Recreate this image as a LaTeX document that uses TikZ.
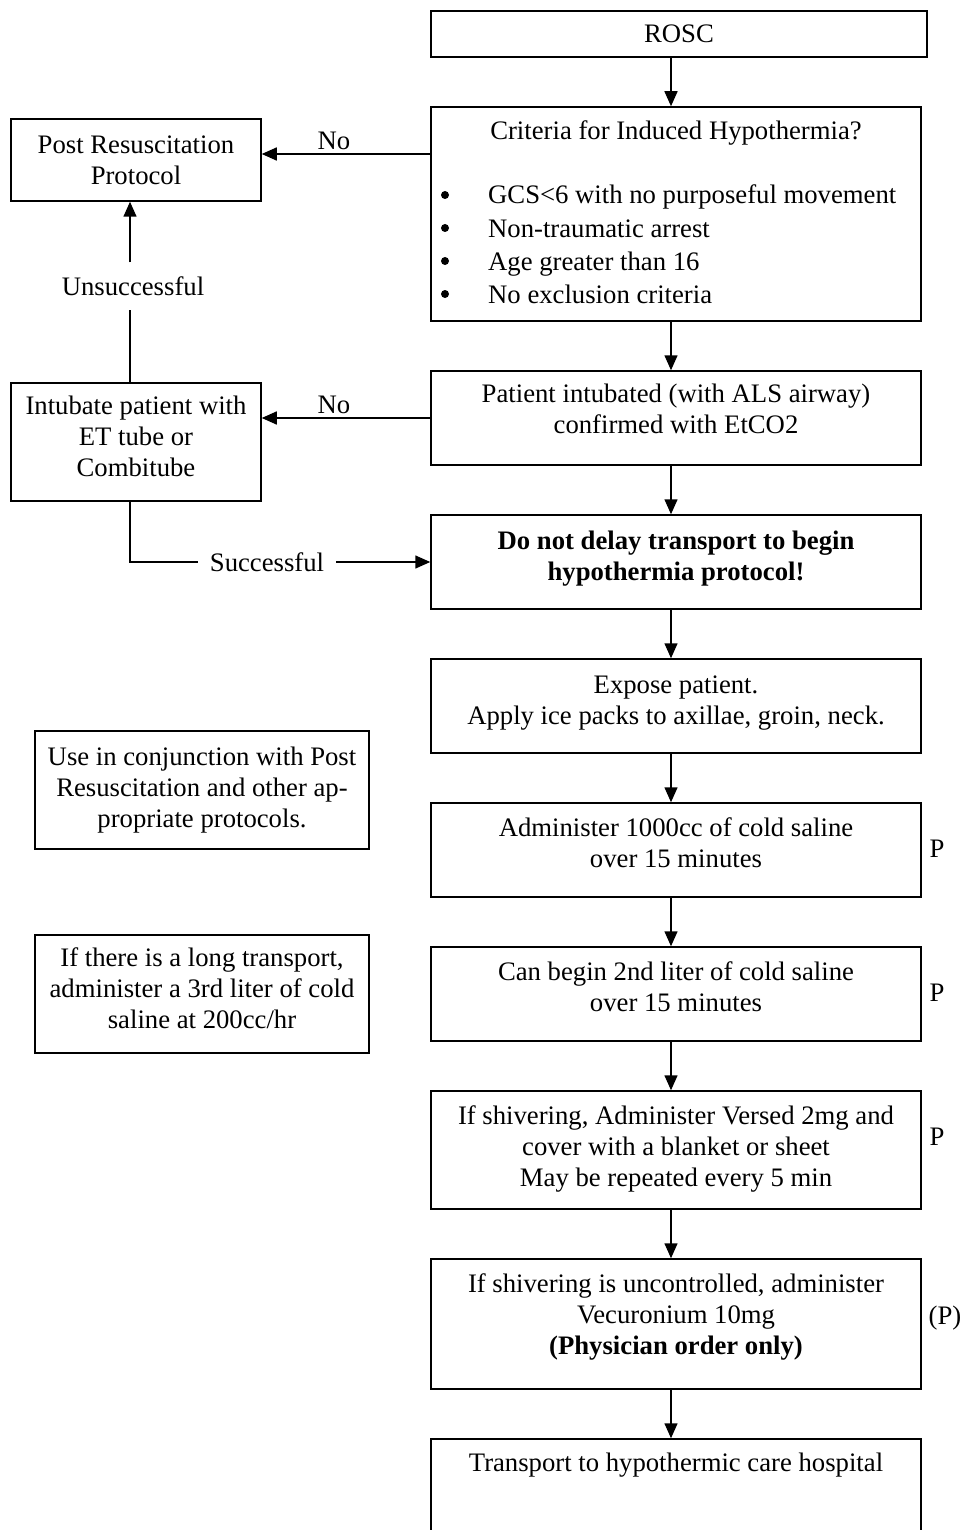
\documentclass[tikz,border=0pt]{standalone}
\usepackage{fontspec}
\setmainfont{Liberation Serif}
\usetikzlibrary{arrows.meta,positioning}

\begin{document}
\begin{tikzpicture}[x=1pt,y=-1pt,
  every node/.style={font=\fontsize{26.7}{31}\selectfont},
  box/.style={draw,line width=1.5pt,align=center,inner sep=0pt},
  dot/.style={circle,fill,inner sep=0pt,minimum size=8pt},
  ln/.style={line width=1.5pt},
  arr/.style={line width=1.5pt,-{Triangle[length=15pt,width=13pt]}}]
\clip(0,0)rectangle(962,1530);
%main column
\node[box,minimum width=496,minimum height=46](rosc)at(679,34){ROSC};
\node[box,minimum width=490,minimum height=214](crit)at(676,214){};
\node(crittitle)at(676,133){Criteria for Induced Hypothermia?};
\foreach \t [count=\i] in {GCS<6 with no purposeful movement,Non-traumatic arrest,Age greater than 16,No exclusion criteria}
{
\node[dot](bul\i)at(445,162+33*\i){};
\node[anchor=base west,inner sep=0pt](crit\i)at(488,171+33*\i){\t};
}
\node[box,minimum width=490,minimum height=94,text depth=18pt](intub)at(676,418){Patient intubated (with ALS airway)\\confirmed with EtCO2};
\node[box,minimum width=490,minimum height=94,text depth=12pt](delay)at(676,562){\textbf{Do not delay transport to begin}\\\textbf{hypothermia protocol!}};
\node[box,minimum width=490,minimum height=94,text depth=12pt](expose)at(676,706){Expose patient.\\Apply ice packs to axillae, groin, neck.};
\node[box,minimum width=490,minimum height=94,text depth=14pt](saline)at(676,850){Administer 1000cc of cold saline\\over 15 minutes};
\node[box,minimum width=490,minimum height=94,text depth=14pt](liter)at(676,994){Can begin 2nd liter of cold saline\\over 15 minutes};
\node[box,minimum width=490,minimum height=118,text depth=8pt](versed)at(676,1150){If shivering, Administer Versed 2mg and\\cover with a blanket or sheet\\May be repeated every 5 min};
\node[box,minimum width=490,minimum height=130,text depth=20pt](vecur)at(676,1324){If shivering is uncontrolled, administer\\Vecuronium 10mg\\\textbf{(Physician order only)}};
\node[box,minimum width=490,minimum height=160](trans)at(676,1519){};
\node(transtext)at(676,1465){Transport to hypothermic care hospital};
%paramedic marks
\node(p1)at(937,849){P};
\node(p2)at(937,993){P};
\node(p3)at(937,1137){P};
\node(p4)at(945,1318){(P)};
%left column
\node[box,minimum width=250,minimum height=82](post)at(136,160){Post Resuscitation\\Protocol};
\node[box,minimum width=250,minimum height=118,text depth=12pt](intube)at(136,442){Intubate patient with\\ET tube or\\Combitube};
\node[box,minimum width=334,minimum height=118](conj)at(202,790){Use in conjunction with Post\\Resuscitation and other ap-\\propriate protocols.};
\node[box,minimum width=334,minimum height=118,text depth=12pt](long)at(202,994){If there is a long transport,\\administer a 3rd liter of cold\\saline at 200cc/hr};
%connectors
\coordinate(ax)at(671,0);
\coordinate(lx)at(130,0);
\draw[arr](ax|-rosc.south)--(ax|-crit.north);
\draw[arr](ax|-crit.south)--(ax|-intub.north);
\draw[arr](ax|-intub.south)--(ax|-delay.north);
\draw[arr](ax|-delay.south)--(ax|-expose.north);
\draw[arr](ax|-expose.south)--(ax|-saline.north);
\draw[arr](ax|-saline.south)--(ax|-liter.north);
\draw[arr](ax|-liter.south)--(ax|-versed.north);
\draw[arr](ax|-versed.south)--(ax|-vecur.north);
\draw[arr](ax|-vecur.south)--(ax|-trans.north);
%no branches
\coordinate(no1)at(0,154);
\coordinate(no2)at(0,418);
\draw[arr](crit.west|-no1)--(post.east|-no1);
\node(lno1)at(334,141){No};
\draw[arr](intub.west|-no2)--(intube.east|-no2);
\node(lno2)at(334,405){No};
%intubation outcome
\node[inner xsep=12pt,inner ysep=14pt](unsucc)at(133,286){Unsuccessful};
\draw[ln](lx|-intube.north)--(lx|-unsucc.south);
\draw[arr](lx|-unsucc.north)--(lx|-post.south);
\node[inner xsep=12pt](succ)at(267,562){Successful};
\draw[ln](lx|-intube.south)|-(succ.west);
\draw[arr](succ.east)--(delay.west|-succ.east);
\end{tikzpicture}
\end{document}
